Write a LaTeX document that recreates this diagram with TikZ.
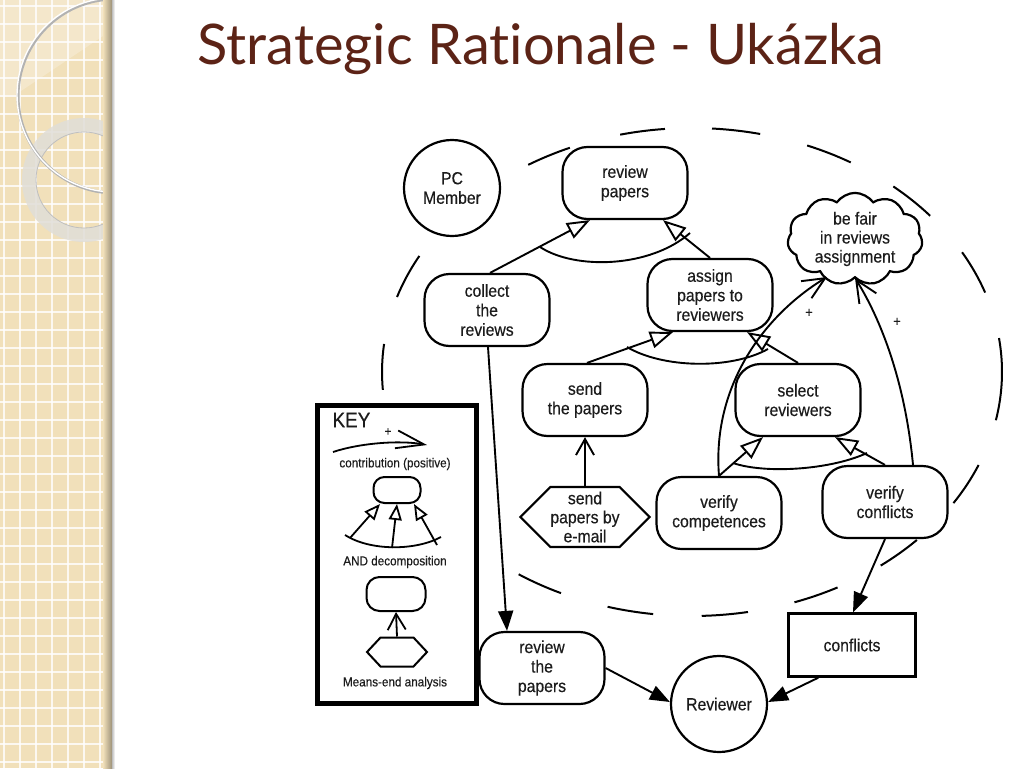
\documentclass[tikz,border=0pt]{standalone}
\usepackage{fontspec}
\setmainfont[FakeStretch=0.9,FakeBold=0.35]{Liberation Sans}
\newfontfamily\titlefont[Ligatures={NoCommon,NoContextual}]{Lato}
\usetikzlibrary{shapes.symbols,shapes.geometric,arrows.meta,calc}
\definecolor{beige}{RGB}{241,224,186}
\definecolor{titlec}{RGB}{92,35,22}
\definecolor{ink}{RGB}{28,28,28}
\definecolor{ringc}{RGB}{224,222,216}
\newcommand\nodefont{\fontsize{17.5}{19.5}\selectfont}
\newcommand\keyfont{\fontsize{13}{15}\selectfont}
\tikzset{
  goal/.style={draw, fill=white, line width=2.2pt, rounded corners=25pt, minimum width=125pt,
    minimum height=72pt, align=center, font=\nodefont, text=ink, inner sep=2pt},
  actor/.style={draw, fill=white, circle, line width=2.2pt, minimum size=96pt, align=center,
    font=\nodefont, text=ink, inner sep=0pt},
  lnk/.style={line width=1.9pt},
  dashline/.style={line width=2pt},
  andarrow/.style={lnk, -{Triangle[fill=white,length=23pt,width=17pt]}},
  contrib/.style={lnk, -{Straight Barb[length=22pt,width=20pt]}},
  meansend/.style={lnk, -{Straight Barb[length=16pt,width=18pt]}},
  dep/.style={lnk, -{Triangle[length=20pt,width=15pt]}},
  plus/.style={font=\fontsize{14}{14}\selectfont, text=ink},
  keytext/.style={font=\keyfont, text=ink},
}
\begin{document}
\begin{tikzpicture}[x=1pt,y=-1pt]
\useasboundingbox (0,0) rectangle (1024,768);
\fill[white] (0,0) rectangle (1024,768);
% ---- left decorative strip
\fill[beige] (0,0) rectangle (112,768);
\foreach \x in {4,20,...,110} \draw[white,line width=1.3pt,opacity=.8] (\x,0) -- (\x,768);
\foreach \y in {6,24,...,768} \draw[white,line width=1.3pt,opacity=.8] (0,\y) -- (112,\y);
\begin{scope}
\clip (0,0) rectangle (112,768);
\fill[white,opacity=.25] (0,0) -- (112,0) -- (112,30) -- (15,95) -- (0,95) -- cycle;
\fill[ringc,opacity=.85,even odd rule] (84,180) circle[radius=62pt] (84,180) circle[radius=48pt];
\draw[black!25,line width=.8pt] (84,180) circle[radius=48pt];
\draw[black!30,line width=3pt] (115,96) circle[radius=97pt];
\draw[white,line width=1.4pt] (114,95) circle[radius=97pt];
\end{scope}
\shade[left color=beige, right color=black!35!beige] (103,0) rectangle (112,768);
\shade[left color=black!25, right color=white] (112,0) rectangle (115,768);
% ---- title
\node[font=\titlefont\fontsize{56}{60}\selectfont, text=titlec, anchor=base] (title) at (541,64) {Strategic Rationale - Ukázka};
% ---- actor boundary (dashed ellipse, drawn dash by dash)
\coordinate (ec) at (692,372);
\foreach \a/\b in {-11.4/8.0, 19/29.4, 39.8/49.5, 59.2/68.2, 77.3/86.3, 95/103.4,
  113.2/121.9, 151.6/162.1, 173.4/184.2, 236/245, 254.2/262.8, 271.8/280.4,
  289.3/298, 307.5/316.5, 327.5/337.6}
  \draw[dashline] ($(ec)+({310*cos(\a)},{-244*sin(\a)})$) arc[start angle=\a, end angle=\b, x radius=310pt, y radius=244pt];
% ---- nodes
\node[actor] (pc) at (452,188) {PC\\Member};
\node[goal] (rp) at (625,183) {review\\papers};
\node[goal] (cr) at (487,310) {collect\\the\\reviews};
\node[goal] (ap) at (710,295) {assign\\papers to\\reviewers};
\node[cloud, draw, fill=white, line width=2.2pt, cloud puffs=11, cloud puff arc=110, aspect=1.65,
  minimum width=135pt, minimum height=82pt, inner sep=0pt, align=center,
  font=\fontsize{17.5}{19}\selectfont, text=ink] (bf) at (855,239) {be fair\\in reviews\\assignment};
\node[goal] (sp) at (585,400) {send\\the papers};
\node[goal] (sr) at (798,400) {select\\reviewers};
\node[signal, signal to=east and west, signal pointer angle=90, draw, fill=white, line width=2.2pt,
  minimum width=120pt, minimum height=60pt, inner sep=0pt, align=center,
  font=\fontsize{17.5}{19}\selectfont, text=ink] (hx) at (585,517) {send\\papers by\\e-mail};
\node[goal] (vc) at (719,513) {verify\\competences};
\node[goal] (vf) at (885,502) {verify\\conflicts};
\node[draw, fill=white, line width=2.4pt, minimum width=127pt, minimum height=63pt, font=\nodefont, text=ink] (cf) at (852,645) {conflicts};
\node[goal] (rtp) at (542,668) {review\\the\\papers};
\node[actor] (rv) at (719,704) {Reviewer};
% ---- AND decomposition of review papers
\draw[andarrow] ($(cr.north)+(3,0)$) -- ($(rp.south)+(-35,0)$);
\draw[andarrow] (ap.north) -- ($(rp.south)+(38,0)$);
\draw[lnk] (540,247) .. controls (575,270) and (650,268) .. (690,233);
% ---- AND decomposition of assign papers
\draw[andarrow] ($(sp.north)+(2,0)$) -- ($(ap.south)+(-37,0)$);
\draw[andarrow] (sr.north) -- ($(ap.south)+(37,0)$);
\draw[lnk] (627,347) .. controls (662,368) and (730,370) .. (768,349);
% ---- AND decomposition of select reviewers
\draw[andarrow] (vc.north) -- ($(sr.south)+(-35,0)$);
\draw[andarrow] (vf.north) -- ($(sr.south)+(37,0)$);
\draw[lnk] (733,463) .. controls (765,474) and (830,470) .. (867,453);
% ---- means-end
\draw[meansend] (hx.north) -- (sp.south);
% ---- contributions
\draw[contrib] (vc.north) .. controls (712,390) and (760,318) .. ($(bf.center)+(-28,38)$);
\draw[contrib] ($(vf.north)+(28,0)$) .. controls (905,380) and (880,318) .. ($(bf.center)+(0,39)$);
\node[plus] (p1) at (809,313) {+};
\node[plus] (p2) at (897,322) {+};
% ---- dependencies
\draw[dep] ($(cr.south)+(1,0)$) -- ($(rtp.north)+(-35,0)$);
\draw[dep] (vf.south) -- ($(cf.north)+(1,0)$);
\draw[dep] (rtp.east) -- ($(rv.west)+(0,-2)$);
\draw[dep] ($(cf.south west)+(31,0)$) -- ($(rv.east)+(0,-2)$);
% ---- KEY
\node[draw, fill=white, line width=5pt, minimum width=159pt, minimum height=298pt, inner sep=0pt] (key) at (396.5,554) {};
\node[anchor=west, font=\fontsize{21}{22}\selectfont, text=ink] (keyt) at (329,420) {KEY};
\node[plus, font=\fontsize{13}{13}\selectfont] (kp) at (388,432) {+};
\coordinate (k1) at (333,452);
\coordinate (k2) at (427,445);
\draw[line width=1.8pt, -{Straight Barb[length=28pt,width=18pt]}] (k1) .. controls (360,443) and (400,440) .. (k2);
\node[keytext] (kt1) at (395,464) {contribution (positive)};
\node[draw, line width=2pt, rounded corners=11pt, minimum width=47pt, minimum height=26pt] (kr1) at (397,490) {};
\coordinate (ka1) at (350,538);
\coordinate (ka2) at (392,548);
\coordinate (ka3) at (437,545);
\draw[line width=1.8pt, -{Triangle[fill=white,length=16pt,width=13pt]}] (ka1) -- ($(kr1.south)+(-17,0)$);
\draw[line width=1.8pt, -{Triangle[fill=white,length=16pt,width=13pt]}] (ka2) -- (kr1.south);
\draw[line width=1.8pt, -{Triangle[fill=white,length=16pt,width=13pt]}] (ka3) -- ($(kr1.south)+(17,0)$);
\draw[line width=1.8pt] (345,535) .. controls (370,551) and (415,551) .. (441,537);
\node[keytext] (kt2) at (395,562) {AND decomposition};
\node[draw, line width=2pt, rounded corners=13pt, minimum width=59pt, minimum height=34pt] (kr2) at (396,594) {};
\node[signal, signal to=east and west, signal pointer angle=94, draw, line width=2pt,
  minimum width=60pt, minimum height=29pt, inner sep=0pt] (kh) at (397,652) {};
\draw[line width=1.8pt, -{Straight Barb[length=16pt,width=18pt]}] (kh.north) -- (kr2.south);
\node[keytext] (kt3) at (395,683) {Means-end analysis};
\end{tikzpicture}
\end{document}
